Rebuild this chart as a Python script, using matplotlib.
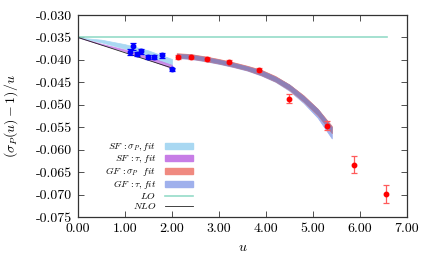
import matplotlib
matplotlib.use("Agg")
import matplotlib.pyplot as plt
from matplotlib.lines import Line2D
from matplotlib.patches import Patch
from matplotlib.ticker import FormatStrFormatter, MultipleLocator
import numpy as np

plt.rcParams["font.family"] = "serif"
plt.rcParams["font.serif"] = ["cmr10", "DejaVu Serif"]
plt.rcParams["mathtext.fontset"] = "cm"
plt.rcParams["axes.unicode_minus"] = False
plt.rcParams["axes.formatter.use_mathtext"] = True

# SF data points (blue)
sf_u = [1.11, 1.18, 1.26, 1.35, 1.48, 1.62, 1.79, 2.00]
sf_val = [-0.0382, -0.0370, -0.0387, -0.0381, -0.0394, -0.0394, -0.0390, -0.0421]
sf_err = [0.0006, 0.0007, 0.0005, 0.0005, 0.0005, 0.0005, 0.0006, 0.0003]

# GF data points (red)
gf_u = [2.13, 2.40, 2.74, 3.21, 3.86, 4.49, 5.30, 5.87, 6.55]
gf_val = [-0.0393, -0.0393, -0.0398, -0.0404, -0.0422, -0.0486, -0.0547, -0.0634, -0.0698]
gf_err = [0.0004, 0.0004, 0.0004, 0.0003, 0.0004, 0.0010, 0.0010, 0.0019, 0.0020]

# SF fit bands
sf_fit_u = [0.0, 0.5, 1.0, 1.5, 2.0]
sf_sigp_mid = [-0.0350, -0.0358, -0.0370, -0.0386, -0.0406]
sf_sigp_err = [0.0000, 0.0003, 0.0005, 0.0007, 0.0008]
sf_tau_mid = [-0.0350, -0.0365, -0.0379, -0.0396, -0.0415]
sf_tau_err = [0.0000, 0.0001, 0.0002, 0.0003, 0.0004]

# GF fit bands
gf_fit_u = [2.10, 2.40, 2.70, 3.00, 3.30, 3.60, 3.90, 4.20, 4.50, 4.80, 5.10, 5.40]
gf_sigp_mid = [-0.0390, -0.0392, -0.0397, -0.0403, -0.0410, -0.0418, -0.0428,
               -0.0442, -0.0461, -0.0486, -0.0516, -0.0555]
gf_sigp_err = [0.0005, 0.0005, 0.0005, 0.0005, 0.0005, 0.0005, 0.0006,
               0.0006, 0.0006, 0.0007, 0.0007, 0.0008]
gf_tau_mid = [-0.0391, -0.0393, -0.0398, -0.0404, -0.0411, -0.0419, -0.0429,
              -0.0443, -0.0462, -0.0488, -0.0519, -0.0562]
gf_tau_err = [0.0005, 0.0005, 0.0005, 0.0005, 0.0005, 0.0005, 0.0006,
              0.0006, 0.0007, 0.0008, 0.0010, 0.0013]

# perturbative curves
lo_u = [0.0, 6.57]
lo_val = [-0.035, -0.035]
nlo_u = [0.0, 2.0]
nlo_val = [-0.035, -0.0418]

c_sf_sigp = "#a9d8f2"
c_sf_tau = "#c77de6"
c_gf_sigp = "#f08a80"
c_gf_tau = "#9fb0ec"
c_gf_both = "#8e80b6"
c_lo = "#95dcc8"

fig = plt.figure(figsize=(4.30, 2.57), dpi=100)
ax = fig.add_axes([0.1814, 0.1556, 0.7651, 0.786])


def band(ax, u, mid, err, color, alpha=1.0):
    mid = np.array(mid)
    err = np.array(err)
    ax.fill_between(u, mid - err, mid + err, color=color, alpha=alpha, lw=0.5,
                    edgecolor=color)
    return mid - err, mid + err


band(ax, sf_fit_u, sf_sigp_mid, sf_sigp_err, c_sf_sigp)
band(ax, sf_fit_u, sf_tau_mid, sf_tau_err, c_sf_tau, 0.85)
lo_t, hi_t = band(ax, gf_fit_u, gf_tau_mid, gf_tau_err, c_gf_tau)
lo_s, hi_s = band(ax, gf_fit_u, gf_sigp_mid, gf_sigp_err, c_gf_sigp)
# overlap of the two GF bands
ax.fill_between(gf_fit_u, np.maximum(lo_t, lo_s), np.minimum(hi_t, hi_s),
                color=c_gf_both, lw=0.3, edgecolor=c_gf_both)

ax.plot(lo_u, lo_val, color=c_lo, lw=1.2)
ax.plot(nlo_u, nlo_val, color="#222222", lw=0.6)

ax.errorbar(sf_u, sf_val, yerr=sf_err, fmt="o", color="#0000ff", ms=3.2,
            elinewidth=0.9, capsize=2.5, capthick=0.9)
ax.errorbar(gf_u, gf_val, yerr=gf_err, fmt="o", color="#ff0000", ms=3.2,
            ecolor="#ff5a5a", elinewidth=0.9, capsize=2.5, capthick=0.9)

ax.set_xlim(0.0, 7.0)
ax.set_ylim(-0.075, -0.030)
ax.xaxis.set_major_locator(MultipleLocator(1.0))
ax.yaxis.set_major_locator(MultipleLocator(0.005))
ax.xaxis.set_major_formatter(FormatStrFormatter("%.2f"))
ax.yaxis.set_major_formatter(FormatStrFormatter("%.3f"))
ax.tick_params(direction="in", top=True, right=True, length=4, width=0.6,
               labelsize=10, pad=4, color="#333333")
for s in ax.spines.values():
    s.set_linewidth(0.9)
    s.set_color("#333333")

ax.set_xlabel("$u$", fontsize=10, labelpad=5)
ax.set_ylabel(r"$(\sigma_P(u)-1)/u$", fontsize=10, labelpad=12)

handles = [
    Patch(color=c_sf_sigp),
    Patch(color=c_sf_tau),
    Patch(color=c_gf_sigp),
    Patch(color=c_gf_tau),
    Line2D([], [], color=c_lo, lw=1.2),
    Line2D([], [], color="#222222", lw=0.6),
]
labels = [
    r"$SF\,:\sigma_P,fit$",
    r"$SF\,:\tau,fit$",
    r"$GF\,:\sigma_P\ \ fit$",
    r"$GF\,:\tau,fit$",
    r"$LO$",
    r"$NLO$",
]
ax.legend(handles, labels, loc="upper right", bbox_to_anchor=(0.35, 0.375),
          frameon=False, markerfirst=False, fontsize=7, handlelength=2.9,
          handleheight=0.55, handletextpad=0.9, labelspacing=0.0,
          borderaxespad=0, borderpad=0)

fig.savefig("out.png", dpi=100)
